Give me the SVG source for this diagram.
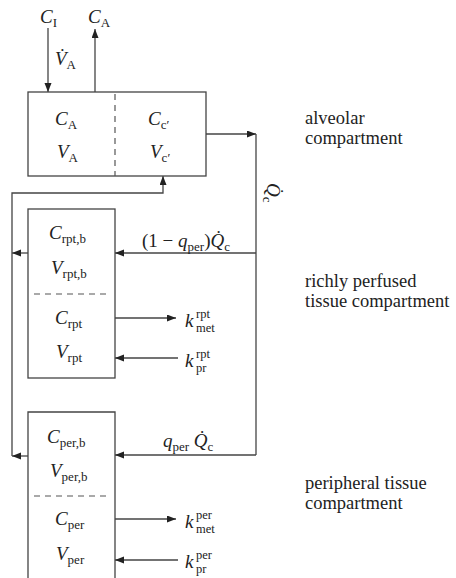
<svg xmlns="http://www.w3.org/2000/svg" width="456" height="578" viewBox="0 0 456 578" font-family="'Liberation Serif', 'Times New Roman', 'DejaVu Serif', serif">
<defs>
<marker id="ah" markerUnits="userSpaceOnUse" markerWidth="10" markerHeight="8" refX="9" refY="3.5" orient="auto">
<path d="M0,0 L9,3.5 L0,7 Z" fill="#222"/>
</marker>
<style>
.ln{stroke:#444;stroke-width:1.3;fill:none}
.ar{stroke:#444;stroke-width:1.3;fill:none;marker-end:url(#ah)}
.bx{stroke:#444;stroke-width:1.3;fill:#fff}
.ds{stroke:#555;stroke-width:1.2;stroke-dasharray:6,5;fill:none}
text{font-size:19px;fill:#222}
.i{font-style:italic}
.s{font-size:13px}
.t{font-size:12.5px}
.lb{font-size:18.5px}
</style>
</defs>

<g id="connectors">
<line class="ar" x1="48" y1="28" x2="48" y2="92"/>
<line class="ar" x1="95" y1="92" x2="95" y2="29"/>
<polyline class="ar" points="206,134 256,134"/>
<polyline class="ln" points="256,134 256,455"/>
<polyline class="ar" points="256,253 115,253"/>
<polyline class="ar" points="256,455 115,455"/>
<polyline class="ar" points="28,253 12,253"/>
<polyline class="ar" points="28,456 12,456"/>
<polyline class="ar" points="12,456 12,193 163,193 163,176"/>
<line class="ar" x1="115" y1="318" x2="176" y2="318"/>
<line class="ar" x1="178" y1="358" x2="115" y2="358"/>
<line class="ar" x1="115" y1="519" x2="176" y2="519"/>
<line class="ar" x1="178" y1="560" x2="115" y2="560"/>
</g>

<g id="inputs">
<text x="40" y="23"><tspan class="i">C</tspan><tspan class="s" dy="4">I</tspan></text>
<text x="88" y="23"><tspan class="i">C</tspan><tspan class="s" dy="4">A</tspan></text>
<text x="55" y="65"><tspan class="i">V̇</tspan><tspan class="s" dy="4">A</tspan></text>
</g>

<g id="alveolar">
<rect class="bx" x="28" y="92" width="178" height="84"/>
<line class="ds" x1="115" y1="94" x2="115" y2="176"/>
<text x="55" y="125"><tspan class="i">C</tspan><tspan class="s" dy="4">A</tspan></text>
<text x="57" y="158"><tspan class="i">V</tspan><tspan class="s" dy="4">A</tspan></text>
<text x="148" y="125"><tspan class="i">C</tspan><tspan class="s" dy="4">c′</tspan></text>
<text x="150" y="158"><tspan class="i">V</tspan><tspan class="s" dy="4">c′</tspan></text>
<text class="lb" x="305" y="124">alveolar<tspan x="305" dy="20">compartment</tspan></text>
</g>

<g id="flow-label">
<text transform="translate(267,183) rotate(90)"><tspan class="i">Q̇</tspan><tspan class="s" dy="4">c</tspan></text>
<text x="142" y="247">(1 − <tspan class="i">q</tspan><tspan class="s" dy="4">per</tspan><tspan dy="-4">)</tspan><tspan class="i">Q̇</tspan><tspan class="s" dy="4">c</tspan></text>
<text x="163" y="447"><tspan class="i">q</tspan><tspan class="s" dy="4">per</tspan><tspan class="i" dy="-4"> Q̇</tspan><tspan class="s" dy="4">c</tspan></text>
</g>

<g id="rpt">
<rect class="bx" x="28" y="209" width="87" height="169"/>
<line class="ds" x1="34" y1="294" x2="110" y2="294"/>
<text x="49" y="239"><tspan class="i">C</tspan><tspan class="s" dy="4">rpt,b</tspan></text>
<text x="51" y="274"><tspan class="i">V</tspan><tspan class="s" dy="4">rpt,b</tspan></text>
<text x="55" y="324"><tspan class="i">C</tspan><tspan class="s" dy="4">rpt</tspan></text>
<text x="56" y="358"><tspan class="i">V</tspan><tspan class="s" dy="4">rpt</tspan></text>
<text x="185" y="327"><tspan class="i">k</tspan><tspan class="t" x="196" dy="-9">rpt</tspan><tspan class="t" x="196" dy="14">met</tspan></text>
<text x="185" y="367"><tspan class="i">k</tspan><tspan class="t" x="196" dy="-9">rpt</tspan><tspan class="t" x="196" dy="14">pr</tspan></text>
<text class="lb" x="305" y="287">richly perfused<tspan x="305" dy="20">tissue compartment</tspan></text>
</g>

<g id="per">
<path class="bx" d="M28,590 L28,412 L115,412 L115,590"/>
<line class="ds" x1="34" y1="496" x2="110" y2="496"/>
<text x="47" y="443"><tspan class="i">C</tspan><tspan class="s" dy="4">per,b</tspan></text>
<text x="50" y="477"><tspan class="i">V</tspan><tspan class="s" dy="4">per,b</tspan></text>
<text x="55" y="525"><tspan class="i">C</tspan><tspan class="s" dy="4">per</tspan></text>
<text x="56" y="560"><tspan class="i">V</tspan><tspan class="s" dy="4">per</tspan></text>
<text x="185" y="528"><tspan class="i">k</tspan><tspan class="t" x="196" dy="-9">per</tspan><tspan class="t" x="196" dy="14">met</tspan></text>
<text x="185" y="568"><tspan class="i">k</tspan><tspan class="t" x="196" dy="-9">per</tspan><tspan class="t" x="196" dy="14">pr</tspan></text>
<text class="lb" x="305" y="489">peripheral tissue<tspan x="305" dy="20">compartment</tspan></text>
</g>
</svg>
